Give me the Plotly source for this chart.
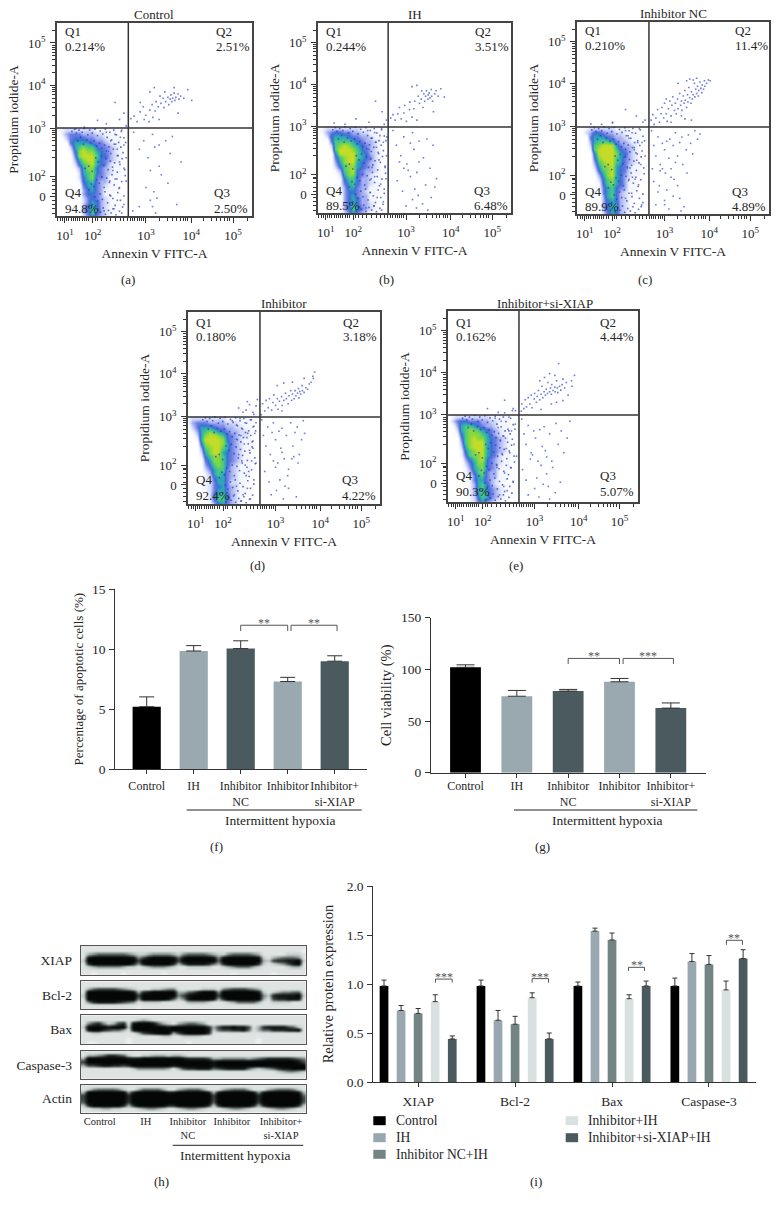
import plotly.graph_objects as go

W, H = 778, 1207
FONT = "Liberation Serif"
INK = "#262626"

# ---------- flow cytometry data (display decades) ----------
FLOW_TITLES = ["Control", "IH", "Inhibitor NC", "Inhibitor", "Inhibitor+si-XIAP"]
FLOW_TAGS = ["(a)", "(b)", "(c)", "(d)", "(e)"]
Q1_PCT = ["0.214%", "0.244%", "0.210%", "0.180%", "0.162%"]
Q2_PCT = ["2.51%", "3.51%", "11.4%", "3.18%", "4.44%"]
Q3_PCT = ["2.50%", "6.48%", "4.89%", "4.22%", "5.07%"]
Q4_PCT = ["94.8%", "89.5%", "89.9%", "92.4%", "90.3%"]
GATE_X = [2.60, 2.59, 2.64, 2.64, 2.635]
GATE_Y = [3.00, 2.985, 2.99, 2.99, 3.00]
FLOW_TICKS = [1.16, 1.79, 3.0, 4.03, 4.98]
FLOW_TICK_TEXT = ["10<sup>1</sup>", "10<sup>2</sup>", "10<sup>3</sup>", "10<sup>4</sup>", "10<sup>5</sup>"]
PI_TICKS = [1.38, 1.85, 3.0, 4.01, 5.0]
PI_TICK_TEXT = ["0", "10<sup>2</sup>", "10<sup>3</sup>", "10<sup>4</sup>", "10<sup>5</sup>"]
GRID_X = [0.88, 0.98, 1.08, 1.18, 1.28, 1.38, 1.48, 1.58, 1.68, 1.78, 1.88, 1.98, 2.08, 2.18, 2.28, 2.38]
GRID_Y = [2.95, 2.85, 2.75, 2.65, 2.55, 2.45, 2.35, 2.25, 2.15, 2.05, 1.95, 1.85, 1.75, 1.65, 1.55, 1.45, 1.35, 1.25, 1.15, 1.05, 0.95]

DENSITY_A = ["0012222222111010", "0013444333221110", "0002455544332111", "0000466665443211", "0000267877544321",
             "0000158988654321", "0000048999755321", "0000036899654321", "0000025789654211", "0000013688543211",
             "0000002678543211", "0000002578443111", "0000001567433110", "0000000466432110", "0000000356431110",
             "0000000355431100", "0000000245432100", "0000000246532100", "0000000356532110", "0000000357632110",
             "0000000246432100"]
DENSITY_B = ["0012222222211110", "0013455443322111", "0002566654433211", "0000477776543321", "0000278987654321",
             "0000179998754321", "0000059999765321", "0000047899765421", "0000036899654321", "0000025788654321",
             "0000013789543321", "0000002688543211", "0000001577533211", "0000001467533211", "0000001366433110",
             "0000000355432110", "0000000356433110", "0000000356533110", "0000000356533210", "0000000357643210",
             "0000000246432100"]
DENSITY_C = ["0001222222111100", "0002355433221110", "0000466654332111", "0000367776433211", "0000278999643321",
             "0000179999754321", "0000059999865321", "0000048999764321", "0000037899764321", "0000026889654211",
             "0000015789654211", "0000003689653211", "0000002578653110", "0000001578653110", "0000001467543110",
             "0000000467532110", "0000000367532100", "0000000356532100", "0000000356632100", "0000000356632100",
             "0000000246532100"]
DENSITY_D = ["0122222222111111", "0134443333222111", "0024666544332211", "0013678765433221", "0002689987543221",
             "0001699998543211", "0000589998643211", "0000378997643211", "0000268996543211", "0000157887543211",
             "0000046887543211", "0000035787532111", "0000024677432111", "0000013676432111", "0000012566432110",
             "0000012466422110", "0000012456432110", "0000012466432110", "0000002567532110", "0000002577532100",
             "0000001356432100"]
DENSITY_E = ["0012222222211111", "0024554443322111", "0003677654332111", "0002678876543211", "0001578887643211",
             "0000478988654321", "0000378999654321", "0000268999654321", "0000157899654321", "0000147889654211",
             "0000035789543211", "0000024688543211", "0000013678543111", "0000012578433110", "0000011467433110",
             "0000001466432110", "0000001367532110", "0000001367543210", "0000001367643210", "0000001257643210",
             "0000001246432100"]
DENSITIES = [DENSITY_A, DENSITY_B, DENSITY_C, DENSITY_D, DENSITY_E]

# sparse events seen on the fringe of the lower-left population
FRINGE_X = [1.32, 1.38, 1.42, 1.48, 1.55, 1.6, 1.68, 1.72, 1.78, 1.84, 1.9, 1.96, 2.02, 2.08, 2.12, 2.18, 2.22, 2.27, 2.33, 2.38, 2.44, 2.5,
            1.45, 1.52, 1.58, 1.66, 1.74, 1.82, 1.88, 1.94, 2.0, 2.06, 2.1, 2.16, 2.2, 2.26, 2.31, 2.37, 2.43, 2.48, 2.54,
            1.62, 1.7, 1.78, 1.86, 1.92, 1.98, 2.04, 2.09, 2.14, 2.19, 2.24, 2.29, 2.35, 2.41, 2.46, 2.52,
            1.7, 1.76, 1.82, 1.88, 1.94, 2.0, 2.05, 2.11, 2.17, 2.23, 2.28, 2.34, 2.39, 2.45, 2.53,
            1.78, 1.84, 1.9, 1.96, 2.01, 2.07, 2.13, 2.18, 2.25, 2.3, 2.36, 2.42, 2.5,
            1.86, 1.92, 1.97, 2.03, 2.08, 2.15, 2.21, 2.27, 2.32, 2.4, 2.47]
FRINGE_Y = [2.92, 2.97, 2.88, 2.95, 2.9, 2.99, 2.84, 2.95, 2.88, 2.98, 2.82, 2.93, 2.86, 2.97, 2.78, 2.9, 2.72, 2.95, 2.84, 2.66, 2.92, 2.77,
            2.7, 2.78, 2.62, 2.72, 2.65, 2.7, 2.58, 2.64, 2.52, 2.6, 2.46, 2.56, 2.4, 2.5, 2.62, 2.35, 2.55, 2.42, 2.66,
            2.05, 2.1, 1.98, 2.3, 2.2, 2.34, 2.12, 2.28, 2.02, 2.22, 2.08, 2.18, 1.96, 2.14, 2.28, 2.02,
            1.55, 1.68, 1.62, 1.78, 1.7, 1.85, 1.6, 1.82, 1.72, 1.9, 1.66, 1.8, 1.58, 1.74, 1.88,
            1.2, 1.38, 1.28, 1.45, 1.32, 1.5, 1.24, 1.42, 1.34, 1.18, 1.48, 1.3, 1.4,
            0.98, 1.08, 1.02, 1.12, 0.97, 1.06, 1.0, 1.1, 0.96, 1.04, 1.14]

EVENTS_A_X = [2.66, 2.73, 2.8, 2.87, 2.94, 2.96, 3.0, 2.87, 3.07, 3.09, 3.14, 3.16, 3.21, 3.23, 3.28, 3.3, 3.32, 3.34, 3.39, 3.41, 3.43, 3.45, 3.5, 3.52, 3.55, 3.57, 3.59, 3.61, 3.64, 3.66, 3.68, 3.73, 3.75, 3.79, 3.86, 3.95, 4.04, 3.19, 3.09, 3.64, 3.73,
              2.3, 2.4, 2.1, 1.9, 2.5, 2.55,
              2.72, 2.85, 2.95, 3.05, 3.15, 3.2, 3.3, 3.35, 3.45, 3.5, 3.55, 3.6, 3.0, 3.1, 3.15, 3.18, 3.22, 3.25, 2.85, 2.7, 3.7, 3.3, 3.8, 3.1,
              2.1, 2.2, 2.3, 2.35, 2.4, 2.45, 2.5, 2.55, 2.25, 2.3, 2.35, 2.4, 2.5, 2.55, 2.2, 2.25, 2.45, 2.5, 2.15, 2.28, 2.42, 2.18, 2.35, 2.05, 1.4, 1.6, 1.85]
EVENTS_A_Y = [3.22, 3.28, 3.15, 3.38, 3.5, 3.2, 3.3, 3.6, 3.15, 3.42, 3.55, 3.25, 3.4, 3.62, 3.5, 3.2, 3.75, 3.58, 3.7, 3.48, 3.85, 3.62, 3.72, 3.55, 3.68, 3.78, 3.62, 3.7, 3.82, 3.65, 3.72, 3.8, 3.68, 3.75, 3.7, 3.9, 3.65, 3.95, 3.85, 3.95, 3.35,
              3.6, 3.2, 3.1, 3.18, 3.35, 3.05,
              2.9, 2.5, 2.7, 2.3, 2.85, 2.55, 2.1, 1.9, 2.7, 1.7, 2.4, 2.8, 1.6, 1.3, 1.15, 1.5, 1.0, 1.35, 1.15, 1.05, 1.2, 2.6, 2.2, 2.0,
              2.9, 2.7, 2.85, 2.5, 2.2, 2.95, 2.6, 2.3, 2.0, 1.8, 2.35, 1.6, 1.2, 1.75, 1.4, 1.1, 1.0, 2.05, 2.45, 2.62, 2.78, 1.75, 1.3, 1.05, 2.98, 3.02, 2.98]

EVENTS_B_X = [2.65, 2.7, 2.75, 2.81, 2.85, 2.89, 2.95, 2.97, 3.01, 3.08, 3.09, 3.14, 3.18, 3.2, 3.25, 3.28, 3.31, 3.35, 3.36, 3.39, 3.41, 3.43, 3.45, 3.47, 3.5, 3.51, 3.53, 3.55, 3.58, 3.59, 3.61, 3.66, 3.69, 3.74, 3.8, 3.88, 3.14, 3.25, 3.63,
              2.3, 2.45, 2.55, 1.85, 2.15, 2.5,
              2.7, 2.78, 2.88, 2.95, 3.02, 3.1, 3.18, 3.25, 3.3, 3.4, 3.48, 3.55, 3.62, 3.7, 2.8, 2.92, 3.05, 3.15, 3.2, 3.24, 3.28, 3.45, 3.5, 3.0, 2.95, 3.1, 3.3, 3.38, 2.85, 3.15, 3.58, 3.66,
              2.12, 2.2, 2.28, 2.32, 2.38, 2.44, 2.48, 2.55, 2.22, 2.28, 2.36, 2.42, 2.48, 2.54, 2.18, 2.26, 2.44, 2.52, 2.15, 2.3, 2.4, 2.2, 2.34, 2.08, 2.56, 2.5, 1.35, 1.6]
EVENTS_B_Y = [3.2, 3.28, 3.15, 3.3, 3.45, 3.18, 3.32, 3.5, 3.12, 3.4, 3.58, 3.22, 3.42, 3.6, 3.15, 3.72, 3.55, 3.65, 3.85, 3.45, 3.78, 3.6, 3.72, 3.85, 3.65, 3.75, 3.8, 3.68, 3.88, 3.72, 3.6, 3.78, 3.85, 3.72, 3.9, 3.7, 3.95, 3.98, 3.35,
              3.6, 3.35, 3.15, 3.18, 3.1, 3.05,
              2.9, 2.55, 2.3, 2.75, 2.1, 2.6, 2.45, 1.9, 2.65, 2.25, 2.7, 2.0, 2.55, 1.75, 1.7, 1.45, 1.95, 1.25, 1.5, 1.05, 1.35, 1.6, 1.0, 1.1, 2.0, 1.8, 2.15, 1.15, 2.15, 2.85, 1.3, 1.55,
              2.9, 2.72, 2.85, 2.5, 2.2, 2.95, 2.62, 2.3, 2.02, 1.8, 2.38, 1.62, 1.2, 1.75, 1.42, 1.1, 1.0, 2.05, 2.45, 2.62, 2.78, 1.75, 1.3, 1.05, 2.75, 1.5, 3.08, 3.05]

EVENTS_C_X = [2.69, 2.73, 2.76, 2.8, 2.84, 2.88, 2.92, 2.94, 2.98, 3.0, 3.04, 3.06, 3.09, 3.12, 3.15, 3.17, 3.19, 3.23, 3.25, 3.27, 3.3, 3.31, 3.35, 3.37, 3.39, 3.4, 3.43, 3.45, 3.47, 3.48, 3.51, 3.53, 3.54, 3.56, 3.58, 3.61, 3.62, 3.64, 3.66, 3.69, 3.7, 3.72, 3.74, 3.76, 3.78, 3.79, 3.82, 3.84, 3.86, 3.87, 3.9, 3.92, 3.93, 3.97, 4.01, 3.51, 3.39, 3.62, 3.15, 3.04, 3.31, 3.47, 3.58, 4.05, 3.74, 3.66,
              2.1, 2.35, 2.5, 2.55, 1.8,
              2.7, 2.75, 2.8, 2.85, 2.9, 2.95, 3.0, 3.02, 3.05, 3.1, 3.12, 3.15, 3.2, 3.22, 3.25, 3.3, 3.35, 3.4, 3.42, 3.5, 3.55, 3.6, 3.65, 3.7, 3.76, 3.82, 2.75, 2.85, 2.9, 3.0, 3.05, 3.1, 3.2, 3.3, 3.38, 3.45, 3.52, 2.8, 2.95, 3.15, 3.25, 3.35, 2.72, 2.88, 3.0,
              2.1, 2.18, 2.25, 2.3, 2.36, 2.42, 2.48, 2.55, 2.2, 2.26, 2.34, 2.4, 2.5, 2.18, 2.24, 2.46, 2.14, 2.3, 2.38, 2.16, 2.32, 2.1, 2.45, 1.3, 1.55, 1.8]
EVENTS_C_Y = [3.15, 3.28, 3.05, 3.2, 3.4, 3.1, 3.3, 3.45, 3.2, 3.55, 3.3, 3.12, 3.42, 3.6, 3.25, 3.5, 3.7, 3.38, 3.55, 3.3, 3.65, 3.42, 3.78, 3.5, 3.6, 3.38, 3.72, 3.55, 3.85, 3.62, 3.45, 3.75, 3.58, 3.92, 3.68, 3.55, 3.82, 3.65, 3.75, 4.02, 3.7, 3.88, 3.78, 3.95, 3.72, 3.85, 4.05, 3.9, 3.8, 3.98, 3.88, 4.08, 3.95, 4.02, 4.1, 4.08, 3.25, 3.15, 3.1, 3.65, 4.02, 3.18, 4.12, 4.08, 4.14, 4.1,
              3.4, 3.25, 3.1, 3.15, 3.08,
              2.9, 2.55, 2.3, 2.75, 2.1, 2.6, 2.45, 1.9, 2.65, 2.25, 2.7, 2.0, 2.55, 1.75, 2.85, 2.3, 2.62, 2.75, 2.1, 2.45, 2.8, 2.6, 2.35, 2.9, 2.7, 2.82, 1.7, 1.45, 1.95, 1.25, 1.5, 1.05, 1.35, 1.6, 1.0, 1.1, 1.9, 1.15, 2.0, 1.8, 2.15, 1.3, 2.0, 1.6, 1.15,
              2.9, 2.72, 2.85, 2.5, 2.2, 2.95, 2.62, 2.3, 2.02, 1.8, 2.38, 1.62, 1.2, 1.75, 1.42, 1.1, 2.05, 2.45, 2.62, 2.78, 1.75, 1.3, 2.1, 3.06, 3.05, 3.1]

EVENTS_D_X = [2.67, 2.7, 2.75, 2.78, 2.83, 2.86, 2.91, 2.94, 2.96, 3.0, 3.04, 3.06, 3.09, 3.14, 3.15, 3.19, 3.23, 3.25, 3.29, 3.31, 3.35, 3.37, 3.39, 3.43, 3.45, 3.47, 3.51, 3.53, 3.54, 3.56, 3.58, 3.61, 3.62, 3.66, 3.7, 3.74, 3.78, 3.82, 3.87, 3.9, 3.86, 3.04, 3.19, 3.39, 3.66, 3.15,
              2.15, 2.25, 2.32, 2.4, 2.48, 2.55, 2.58, 2.5, 2.35,
              2.68, 2.72, 2.78, 2.82, 2.88, 2.92, 2.95, 3.0, 3.05, 3.08, 3.12, 3.15, 3.2, 3.25, 3.3, 3.35, 3.4, 3.45, 3.5, 3.55, 3.6, 3.64, 3.67, 2.75, 2.85, 2.95, 3.02, 3.1, 3.18, 3.22, 3.28, 3.38, 3.48, 3.52, 2.9, 3.0, 3.15, 3.3, 3.42,
              2.0, 2.1, 2.18, 2.24, 2.3, 2.36, 2.42, 2.48, 2.55, 2.12, 2.2, 2.28, 2.34, 2.4, 2.46, 2.52, 2.15, 2.22, 2.3, 2.38, 2.45, 2.5, 2.1, 2.25, 2.35, 2.42, 2.55, 2.05, 2.2, 2.32, 2.48]
EVENTS_D_Y = [3.04, 3.3, 3.13, 3.38, 3.21, 3.42, 3.15, 3.33, 3.51, 3.26, 3.42, 3.17, 3.36, 3.47, 3.26, 3.38, 3.55, 3.42, 3.3, 3.49, 3.61, 3.38, 3.53, 3.42, 3.61, 3.49, 3.55, 3.66, 3.44, 3.59, 3.53, 3.73, 3.61, 3.57, 3.68, 3.64, 3.77, 3.81, 3.9, 4.05, 3.95, 3.73, 3.79, 3.81, 3.9, 3.13,
              3.2, 3.1, 3.15, 3.28, 3.1, 3.25, 3.4, 3.05, 3.35,
              2.92, 2.55, 2.3, 2.75, 2.1, 2.62, 2.85, 2.45, 1.9, 2.65, 2.25, 2.72, 2.0, 2.55, 1.75, 2.85, 2.3, 2.62, 2.75, 2.1, 2.45, 2.9, 2.6, 1.7, 1.45, 1.95, 1.25, 1.5, 1.05, 1.35, 1.6, 2.0, 1.1, 1.9, 1.15, 1.8, 2.15, 1.3, 2.05,
              2.9, 2.8, 2.95, 2.7, 2.85, 2.6, 2.92, 2.75, 2.85, 2.45, 2.55, 2.35, 2.5, 2.2, 2.4, 2.6, 2.1, 1.95, 1.85, 1.7, 1.95, 1.5, 1.35, 1.15, 1.3, 1.05, 1.9, 1.15, 1.0, 1.6, 2.25]

EVENTS_E_X = [2.69, 2.7, 2.75, 2.78, 2.81, 2.85, 2.89, 2.92, 2.94, 2.99, 3.0, 3.04, 3.06, 3.09, 3.12, 3.15, 3.17, 3.19, 3.22, 3.25, 3.27, 3.3, 3.31, 3.35, 3.37, 3.39, 3.4, 3.43, 3.47, 3.48, 3.51, 3.53, 3.54, 3.58, 3.61, 3.64, 3.66, 3.7, 3.74, 3.78, 3.86, 3.93, 3.87, 3.23, 3.35, 3.47, 3.56, 3.39, 3.15, 3.12, 3.66, 3.51,
              2.3, 2.5, 2.55, 1.9,
              2.7, 2.75, 2.8, 2.85, 2.92, 2.98, 3.02, 3.08, 3.12, 3.18, 3.22, 3.28, 3.35, 3.42, 3.5, 3.55, 3.62, 3.68, 3.76, 3.82, 2.72, 2.8, 2.9, 3.0, 3.05, 3.1, 3.2, 3.28, 3.35, 3.4, 3.48, 2.85, 2.95, 3.15, 3.25, 3.32, 3.6,
              2.08, 2.15, 2.22, 2.28, 2.34, 2.4, 2.46, 2.52, 2.58, 2.12, 2.2, 2.3, 2.36, 2.44, 2.5, 2.18, 2.25, 2.32, 2.4, 2.55, 2.12, 2.28, 2.42, 2.15, 2.3, 2.48, 1.4, 1.7, 1.95]
EVENTS_E_Y = [3.09, 3.26, 3.15, 3.36, 3.19, 3.41, 3.26, 3.47, 3.17, 3.38, 3.51, 3.3, 3.44, 3.58, 3.36, 3.49, 3.68, 3.41, 3.55, 3.47, 3.61, 3.51, 3.77, 3.55, 3.64, 3.49, 3.72, 3.58, 3.66, 3.55, 3.81, 3.64, 3.53, 3.68, 3.59, 3.72, 3.85, 3.64, 3.77, 3.47, 3.81, 3.94, 3.68, 3.89, 3.98, 3.94, 4.22, 3.26, 3.13, 3.81, 3.34, 3.3,
              3.35, 3.15, 3.1, 3.15,
              2.9, 2.55, 2.3, 2.75, 2.1, 2.62, 2.45, 1.9, 2.65, 2.25, 2.72, 2.0, 2.55, 1.75, 2.8, 2.3, 2.62, 2.1, 2.45, 2.85, 1.7, 1.45, 1.95, 1.25, 1.5, 1.05, 1.35, 1.6, 1.0, 1.9, 1.15, 1.1, 2.05, 1.8, 2.15, 1.3, 1.4,
              2.92, 2.7, 2.85, 2.5, 2.2, 2.95, 2.62, 2.3, 2.02, 1.8, 2.38, 1.62, 1.2, 1.75, 1.42, 1.1, 2.05, 2.45, 2.62, 2.78, 1.75, 1.3, 2.1, 3.06, 3.05, 3.1]

EVENTS_X = [EVENTS_A_X, EVENTS_B_X, EVENTS_C_X, EVENTS_D_X, EVENTS_E_X]
EVENTS_Y = [EVENTS_A_Y, EVENTS_B_Y, EVENTS_C_Y, EVENTS_D_Y, EVENTS_E_Y]

# ---------- bar charts ----------
GROUPS = ["Control", "IH", "Inhibitor<br>NC", "Inhibitor", "Inhibitor+<br>si-XIAP"]
APOPTOSIS = [5.2, 9.85, 10.05, 7.3, 9.0]
APOPTOSIS_ERR = [0.82, 0.45, 0.65, 0.35, 0.45]
VIABILITY = [102, 74, 79, 88, 62.5]
VIABILITY_ERR = [2.4, 5.6, 1.6, 3.2, 5.0]
BAR_COLORS = ["#000000", "#9aa9b0", "#4b5a5e", "#9aa9b0", "#4b5a5e"]

PROTEINS = ["XIAP", "Bcl-2", "Bax", "Caspase-3"]
SERIES = ["Control", "IH", "Inhibitor NC+IH", "Inhibitor+IH", "Inhibitor+si-XIAP+IH"]
EXPR = [[0.98, 0.98, 0.98, 0.98],
        [0.73, 0.63, 1.54, 1.23],
        [0.70, 0.59, 1.45, 1.20],
        [0.82, 0.86, 0.85, 0.94],
        [0.44, 0.44, 0.98, 1.26]]
EXPR_ERR = [[0.06, 0.06, 0.04, 0.08],
            [0.05, 0.10, 0.03, 0.08],
            [0.05, 0.08, 0.07, 0.09],
            [0.07, 0.05, 0.04, 0.09],
            [0.03, 0.06, 0.05, 0.09]]
EXPR_COLORS = ["#000000", "#99a8b0", "#738485", "#d9e1e0", "#4b5a5e"]

# ---------- western blot darkness by lane column and row (0 pale .. 9 black) ----------
BLOT_NAMES = ["XIAP", "Bcl-2", "Bax", "Caspase-3", "Actin"]
LANES = ["Control", "IH", "Inhibitor<br>NC", "Inhibitor", "Inhibitor+<br>si-XIAP"]
LANE_POS = [3.3, 12.5, 20.9, 29.7, 39.5]
BLOT_XIAP = ["1 1111111111 1 1111111 1 1111111 1 11111111 11 111111 1",
             "1 1111111111 1 1111111 1 1111111 1 11111111 11 111111 0",
             "1 3455555543 2 2344443 2 4555543 2 24555543 11 111222 1",
             "1 8999999998 4 6899998 5 8999998 4 89999998 21 345554 1",
             "2 9999999999 6 9999999 6 9999999 5 99999999 32 677889 2",
             "1 7999999997 4 8999997 3 6888875 3 79999997 21 234689 1",
             "1 2344444322 1 2344432 1 1222221 1 23455532 11 111233 1",
             "1 1111111111 1 1111111 1 1111111 1 11111111 11 111111 1",
             "1 1011111011 1 1111011 1 1111111 1 11011111 11 011111 1"]
BLOT_BCL2 = ["1 1111111111 1 1111111 1 1111111 1 11111111 11 111111 1",
             "1 1111111111 1 1111111 1 1111111 1 11111111 11 111111 1",
             "1 3566665432 1 1122344 1 1111222 1 45666543 11 111111 1",
             "1 9999999998 3 7899999 3 3568999 4 99999998 21 234455 1",
             "2 9999999999 6 9999999 4 6899999 6 99999999 42 788889 2",
             "1 9999999999 4 9999985 2 4899998 3 79999999 31 677888 1",
             "1 4788887654 1 2222111 1 1333321 1 12355553 11 222211 1",
             "1 1111111111 1 1111111 1 1111111 1 11111111 11 111111 1",
             "1 1111111111 0 1111111 1 1111111 1 11111111 11 111111 1"]
BLOT_BAX = ["1 11111111 1 11111111 11111111 1 1111111 1 111111111 1",
            "1 11111111 1 12321111 11111111 1 1111111 1 111111111 1",
            "1 46742367 1 89998532 13455431 1 1111111 1 111111111 1",
            "2 99998999 2 99999998 99999997 3 6889886 1 378888652 1",
            "1 89976553 1 89999999 99999998 2 5667785 1 355777889 1",
            "1 12211111 1 13678999 36899997 1 1111111 1 111111111 1",
            "1 11111111 1 11111122 11222211 1 1111111 1 111111111 1",
            "1 11111111 0 11111111 11111111 1 1111111 1 011111111 1",
            "1 00111111 0 11111111 11101111 1 1111111 1 011111111 1"]
BLOT_CASP = ["1 11111111 1 11111111 11111111 1 1111111 1 1111111111",
             "1 33457765 2 11223332 33211111 1 1111111 1 1111111111",
             "3 99999999 8 88999999 99877776 3 3444443 4 5677777654",
             "6 99999999 9 99999999 99999999 8 9999999 9 9999999986",
             "3 66788776 7 99999999 89999999 8 9999999 9 9999999999",
             "1 11111111 1 24444443 13677888 5 6788885 3 2345788999",
             "1 11111111 1 11111111 11111111 1 1111111 1 1111234432",
             "1 11111111 1 11111111 11111111 1 1111111 1 1111111111",
             "1 11111111 1 11111111 11111111 1 1111111 1 1111111111"]
BLOT_ACTIN = ["1 11111111 1 11111111 11111111 1 11111111 1 11111111 1",
              "1 24555542 1 13555531 13455531 1 13455531 1 13455542 1",
              "3 99999999 4 89999998 89999998 3 89999998 4 89999998 3",
              "6 99999999 7 99999999 99999999 6 99999999 7 99999999 5",
              "6 99999999 7 99999999 99999999 6 99999999 7 99999999 6",
              "5 99999999 6 99999999 99999999 5 99999999 6 99999999 5",
              "2 79999997 3 79999997 79999997 2 79999997 3 79999997 2",
              "1 12233221 1 12344321 12344321 1 12344321 1 12344321 1",
              "1 11111111 1 11111111 11111111 1 11111111 1 11111111 1"]
BLOTS = [BLOT_XIAP, BLOT_BCL2, BLOT_BAX, BLOT_CASP, BLOT_ACTIN]

# ---------- panel geometry in page pixels ----------
FLOW_BOX = [(57, 252, 23, 216), (318, 511, 23, 213), (577, 769, 22, 214), (188, 380, 312, 504), (448, 638, 311, 502)]
FLOW_Q2X = [157, 155, 156, 153, 150]
FLOW_Q3X = [155, 154, 153, 152, 150]
FLOW_TOP = [(9, 24), (9, 24), (9, 24), (10, 24), (11, 25)]
FLOW_BOT = [(23, 7), (23, 7), (22, 7), (25, 9), (27, 11)]
TITLE_POS = [(154, 14), (415, 15), (673, 13), (284, 303), (545, 303)]
TAG_POS = [(127.7, 279), (386.7, 280), (645, 280), (257.7, 565), (516, 565)]

layout = dict(width=W, height=H, margin=dict(l=0, r=0, t=0, b=0, autoexpand=False), paper_bgcolor="white", plot_bgcolor="white",
              barmode="overlay", font=dict(family=FONT, color=INK, size=13), showlegend=False)
annotations, shapes, traces = [], [], []


def note(x, y, text, size=13, anchor="center", color=INK):
    annotations.append(dict(x=x / W, y=1 - y / H, xref="paper", yref="paper", text=text, showarrow=False,
                            xanchor=anchor, yanchor="middle", font=dict(family=FONT, size=size, color=color)))


def axes(i, x0, x1, y0, y1, xopts, yopts):
    s = "" if i == 1 else str(i)
    layout["xaxis" + s] = dict(domain=[x0 / W, x1 / W], anchor="y" + s, showgrid=False, zeroline=False, **xopts)
    layout["yaxis" + s] = dict(domain=[1 - y1 / H, 1 - y0 / H], anchor="x" + s, showgrid=False, zeroline=False, **yopts)
    return "x" + s, "y" + s


FLOW_SCALE = [[0, "#ffffff"], [1 / 9, "#f4f6fe"], [2 / 9, "#d4dbf8"], [3 / 9, "#a4b0f0"], [4 / 9, "#6a7ce4"],
              [5 / 9, "#3a70d0"], [6 / 9, "#2fa6b8"], [7 / 9, "#48c880"], [8 / 9, "#86d840"], [1, "#c4dc28"]]
X_MINOR = [1.0, 1.05, 1.1, 1.2, 1.25, 1.3, 1.35, 1.4, 1.45, 1.5, 1.55, 1.6, 1.65, 1.7, 1.85, 1.9, 2.0, 2.1, 2.2, 2.32, 2.42, 2.5, 2.58, 2.65, 2.7, 2.75, 2.8, 2.85, 2.9, 2.95,
           3.3, 3.48, 3.6, 3.7, 3.78, 3.85, 3.9, 3.95, 4.3, 4.48, 4.6, 4.7, 4.78, 4.85, 4.9, 5.3]
Y_MINOR = [1.0, 1.1, 1.2, 1.3, 1.45, 1.55, 1.65, 1.75, 1.78, 2.3, 2.48, 2.6, 2.7, 2.78, 2.85, 2.9, 2.95,
           3.3, 3.48, 3.6, 3.7, 3.78, 3.85, 3.9, 3.95, 4.3, 4.48, 4.6, 4.7, 4.78, 4.85, 4.9, 4.95, 5.3]

for k in range(5):
    x0, x1, y0, y1 = FLOW_BOX[k]
    xa, ya = axes(k + 1, x0, x1, y0, y1,
                  dict(range=[0.98, 5.41], tickmode="array", tickvals=FLOW_TICKS, ticktext=FLOW_TICK_TEXT, ticks="outside",
                       ticklen=5, tickcolor="#333", tickfont=dict(size=13), ticklabelstandoff=2,
                       minor=dict(tickmode="array", tickvals=X_MINOR, ticks="outside", ticklen=3, tickcolor="#333"),
                       showline=True, linecolor="#444", linewidth=1.5, mirror=True,
                       title=dict(text="Annexin V FITC-A", font=dict(size=13.5), standoff=6)),
                  dict(range=[0.93, 5.47], tickmode="array", tickvals=PI_TICKS, ticktext=PI_TICK_TEXT, ticks="outside",
                       ticklen=5, tickcolor="#333", tickfont=dict(size=13), ticklabelstandoff=2,
                       minor=dict(tickmode="array", tickvals=Y_MINOR, ticks="outside", ticklen=3, tickcolor="#333"),
                       showline=True, linecolor="#444", linewidth=1.5, mirror=True,
                       title=dict(text="Propidium iodide-A", font=dict(size=13.5), standoff=6)))
    z = [[int(c) for c in row] for row in DENSITIES[k]]
    traces.append(go.Heatmap(x=GRID_X, y=GRID_Y, z=z, xaxis=xa, yaxis=ya, zmin=0, zmax=9, colorscale=FLOW_SCALE,
                             zsmooth="best", showscale=False, hoverinfo="skip"))
    traces.append(go.Scatter(x=FRINGE_X, y=FRINGE_Y, xaxis=xa, yaxis=ya, mode="markers", showlegend=False,
                             marker=dict(size=1.6, symbol="square", color="#2c3cc4", opacity=0.75, line=dict(width=0))))
    traces.append(go.Scatter(x=EVENTS_X[k], y=EVENTS_Y[k], xaxis=xa, yaxis=ya, mode="markers", showlegend=False,
                             marker=dict(size=1.6, symbol="square", color="#3e50d2", opacity=0.75, line=dict(width=0))))
    traces.append(go.Scatter(x=[GATE_X[k], GATE_X[k]], y=[0.93, 5.47], xaxis=xa, yaxis=ya, mode="lines", showlegend=False,
                             line=dict(color="#333", width=1.5)))
    traces.append(go.Scatter(x=[0.98, 5.41], y=[GATE_Y[k], GATE_Y[k]], xaxis=xa, yaxis=ya, mode="lines", showlegend=False,
                             line=dict(color="#333", width=1.5)))
    note(*TITLE_POS[k], FLOW_TITLES[k], 13)
    note(*TAG_POS[k], FLOW_TAGS[k], 13)
    tq, tv = FLOW_TOP[k]
    bq, bv = FLOW_BOT[k]
    note(x0 + 5.5, y0 + tq, "Q1", 13, "left")
    note(x0 + 5.5, y0 + tv, Q1_PCT[k], 13, "left")
    note(x0 + FLOW_Q2X[k], y0 + tq, "Q2", 13, "left")
    note(x0 + FLOW_Q2X[k], y0 + tv, Q2_PCT[k], 13, "left")
    note(x0 + FLOW_Q3X[k], y1 - bq, "Q3", 13, "left")
    note(x0 + FLOW_Q3X[k], y1 - bv, Q3_PCT[k], 13, "left")
    note(x0 + 5.5, y1 - bq, "Q4", 13, "left")
    note(x0 + 5.5, y1 - bv, Q4_PCT[k], 13, "left")


def bar_panel(idx, box, xrange, ymax, dtick, values, errs, ytitle, bw, cap, brackets, stars, line_px, hyp_x, tag, standoff, title_size, label_off):
    x0, x1, y0, y1 = box
    xa, ya = axes(idx, x0, x1, y0, y1,
                  dict(range=xrange, tickmode="array", tickvals=list(range(5)), ticktext=GROUPS, ticks="outside", ticklen=4,
                       tickcolor="#333", tickangle=0, tickfont=dict(size=12), ticklabelstandoff=label_off, showline=True,
                       linecolor="#333", linewidth=1),
                  dict(range=[0, ymax], dtick=dtick, ticks="outside", ticklen=5, tickcolor="#333", tickfont=dict(size=13.5),
                       ticklabelstandoff=1, showline=True, linecolor="#333", linewidth=1,
                       title=dict(text=ytitle, font=dict(size=title_size), standoff=standoff)))
    traces.append(go.Bar(x=list(range(5)), y=values, xaxis=xa, yaxis=ya, width=bw, showlegend=False,
                         marker=dict(color=BAR_COLORS, line=dict(width=0)),
                         error_y=dict(type="data", symmetric=False, array=errs, arrayminus=[0] * 5, color="#333",
                                      thickness=1, width=cap)))
    for (bx0, bx1, top, low), st in zip(brackets, stars):
        traces.append(go.Scatter(x=[bx0, bx0, bx1, bx1], y=[low, top, top, low], xaxis=xa, yaxis=ya, mode="lines",
                                 showlegend=False, line=dict(color="#555", width=1)))
        annotations.append(dict(x=(bx0 + bx1) / 2, y=top, xref=xa, yref=ya, text=st, showarrow=False, yanchor="bottom",
                                yshift=-7, font=dict(family=FONT, size=12, color="#555")))
    shapes.append(dict(type="line", xref="paper", yref="paper", x0=line_px[0] / W, x1=line_px[1] / W,
                       y0=1 - 810 / H, y1=1 - 810 / H, line=dict(color="#222", width=1)))
    note(hyp_x, 820.5, "Intermittent hypoxia", 13.5)
    note(tag[0], tag[1], tag[2], 13)


bar_panel(6, (115.3, 367, 589.3, 769), [-0.668, 4.687], 15, 5, APOPTOSIS, APOPTOSIS_ERR,
          "Percentage of apoptotic cells (%)", 0.6, 7.5,
          [(2.0, 3.0, 12.0, 11.52), (3.07, 4.05, 12.0, 11.52)], ["**", "**"], (186.7, 361.7), 280, (216.7, 846, "(f)"), 5, 13, 2)
bar_panel(7, (431, 706, 617.7, 772.7), [-0.672, 4.685], 150, 50, VIABILITY, VIABILITY_ERR,
          "Cell viability (%)", 0.6, 9,
          [(2.0, 3.0, 110.6, 105.2), (3.07, 4.05, 110.6, 105.2)], ["**", "***"], (514, 697.3), 607.8, (542.7, 846, "(g)"), 5, 14.5, -2)

# ---------- blots ----------
BLOT_Y = [(946, 974.7), (981.3, 1009.3), (1015.3, 1044), (1050.7, 1079), (1084.7, 1112.7)]
BLOT_SCALE = [[0, "#eef1f0"], [1 / 9, "#dfe4e3"], [2 / 9, "#c6cdcc"], [3 / 9, "#a2acab"], [4 / 9, "#7d8887"], [5 / 9, "#59625f"],
              [6 / 9, "#3b4240"], [7 / 9, "#222826"], [8 / 9, "#111413"], [1, "#050606"]]
for b in range(5):
    y0, y1 = BLOT_Y[b]
    xo = dict(range=[-0.5, 44.5], showline=True, mirror=True, linecolor="#555", linewidth=1, ticks="", tickmode="array",
              tickvals=[], fixedrange=True)
    if b == 4:
        xo.update(tickvals=LANE_POS, ticktext=LANES, tickangle=0, tickfont=dict(size=10.5), ticklabelstandoff=-1, ticklen=0)
    xa, ya = axes(8 + b, 80.7, 306, y0, y1, xo,
                  dict(range=[8.5, -0.5], showline=True, mirror=True, linecolor="#555", linewidth=1, ticks="", tickmode="array",
                       tickvals=[4], ticktext=[BLOT_NAMES[b]], tickfont=dict(size=13.5), ticklabelstandoff=5, ticklen=0))
    z = [[int(c) for c in row.replace(" ", "").ljust(45, "1")[:45]] for row in BLOTS[b]]
    traces.append(go.Heatmap(z=z, xaxis=xa, yaxis=ya, zmin=0, zmax=9, colorscale=BLOT_SCALE, zsmooth="best",
                             showscale=False, hoverinfo="skip"))
shapes.append(dict(type="line", xref="paper", yref="paper", x0=172.7 / W, x1=303.3 / W, y0=1 - 1145.3 / H, y1=1 - 1145.3 / H,
                   line=dict(color="#222", width=1)))
note(235, 1155.5, "Intermittent hypoxia", 13.5)
note(161, 1181, "(h)", 13)

# ---------- grouped bars ----------
xa, ya = axes(13, 373.3, 756, 886, 1082,
              dict(range=[-0.4625, 3.485], tickmode="array", tickvals=[0, 1, 2, 3], ticktext=PROTEINS, ticks="outside", ticklen=4,
                   tickcolor="#333", tickfont=dict(size=13.5), ticklabelstandoff=3, showline=True, linecolor="#333", linewidth=1),
              dict(range=[0, 2], tickvals=[0, 0.5, 1, 1.5, 2], ticktext=["0.0", "0.5", "1.0", "1.5", "2.0"], ticks="outside", ticklen=5,
                   tickcolor="#333", tickfont=dict(size=13.5), ticklabelstandoff=1, showline=True, linecolor="#333", linewidth=1,
                   title=dict(text="Relative protein expression", font=dict(size=14.5), standoff=9)))
LEGEND_SLOTS = [(373.3, 394, 1120.7), (373.3, 394, 1137.7), (373.3, 394, 1154.3), (565.7, 586, 1120.7), (565.7, 586, 1137.7)]
for s in range(5):
    traces.append(go.Bar(x=[0, 1, 2, 3], y=EXPR[s], xaxis=xa, yaxis=ya, name=SERIES[s], width=0.09,
                         offset=(s - 2) * 0.176 - 0.045, showlegend=False,
                         marker=dict(color=EXPR_COLORS[s], line=dict(width=0)),
                         error_y=dict(type="data", symmetric=False, array=EXPR_ERR[s], arrayminus=[0] * 4, color="#333",
                                      thickness=1, width=2.5)))
    sx, tx, sy = LEGEND_SLOTS[s]
    shapes.append(dict(type="rect", xref="paper", yref="paper", x0=sx / W, x1=(sx + 12.4) / W, y0=1 - (sy - 4.5) / H, y1=1 - (sy + 4.5) / H,
                       fillcolor=EXPR_COLORS[s], line=dict(width=0)))
    note(tx, sy, SERIES[s], 13.6, "left")
BRACKETS_I = [(0.179, 0.351, 1.05, 1.014, "***"), (1.176, 1.345, 1.055, 1.014, "***"),
              (2.17, 2.335, 1.17, 1.133, "**"), (3.18, 3.345, 1.446, 1.40, "**")]
for bx0, bx1, top, low, st in BRACKETS_I:
    traces.append(go.Scatter(x=[bx0, bx0, bx1, bx1], y=[low, top, top, low], xaxis=xa, yaxis=ya, mode="lines",
                             showlegend=False, line=dict(color="#555", width=1)))
    annotations.append(dict(x=(bx0 + bx1) / 2, y=top, xref=xa, yref=ya, text=st, showarrow=False, yanchor="bottom",
                            yshift=-7, font=dict(family=FONT, size=12, color="#555")))
note(536, 1181, "(i)", 13)

layout["annotations"] = annotations
layout["shapes"] = shapes

fig = go.Figure(data=traces, layout=layout)
fig.write_html("out.html", config=dict(displayModeBar=False),
               post_script="document.body.style.margin='0';document.documentElement.style.overflow='hidden';")
